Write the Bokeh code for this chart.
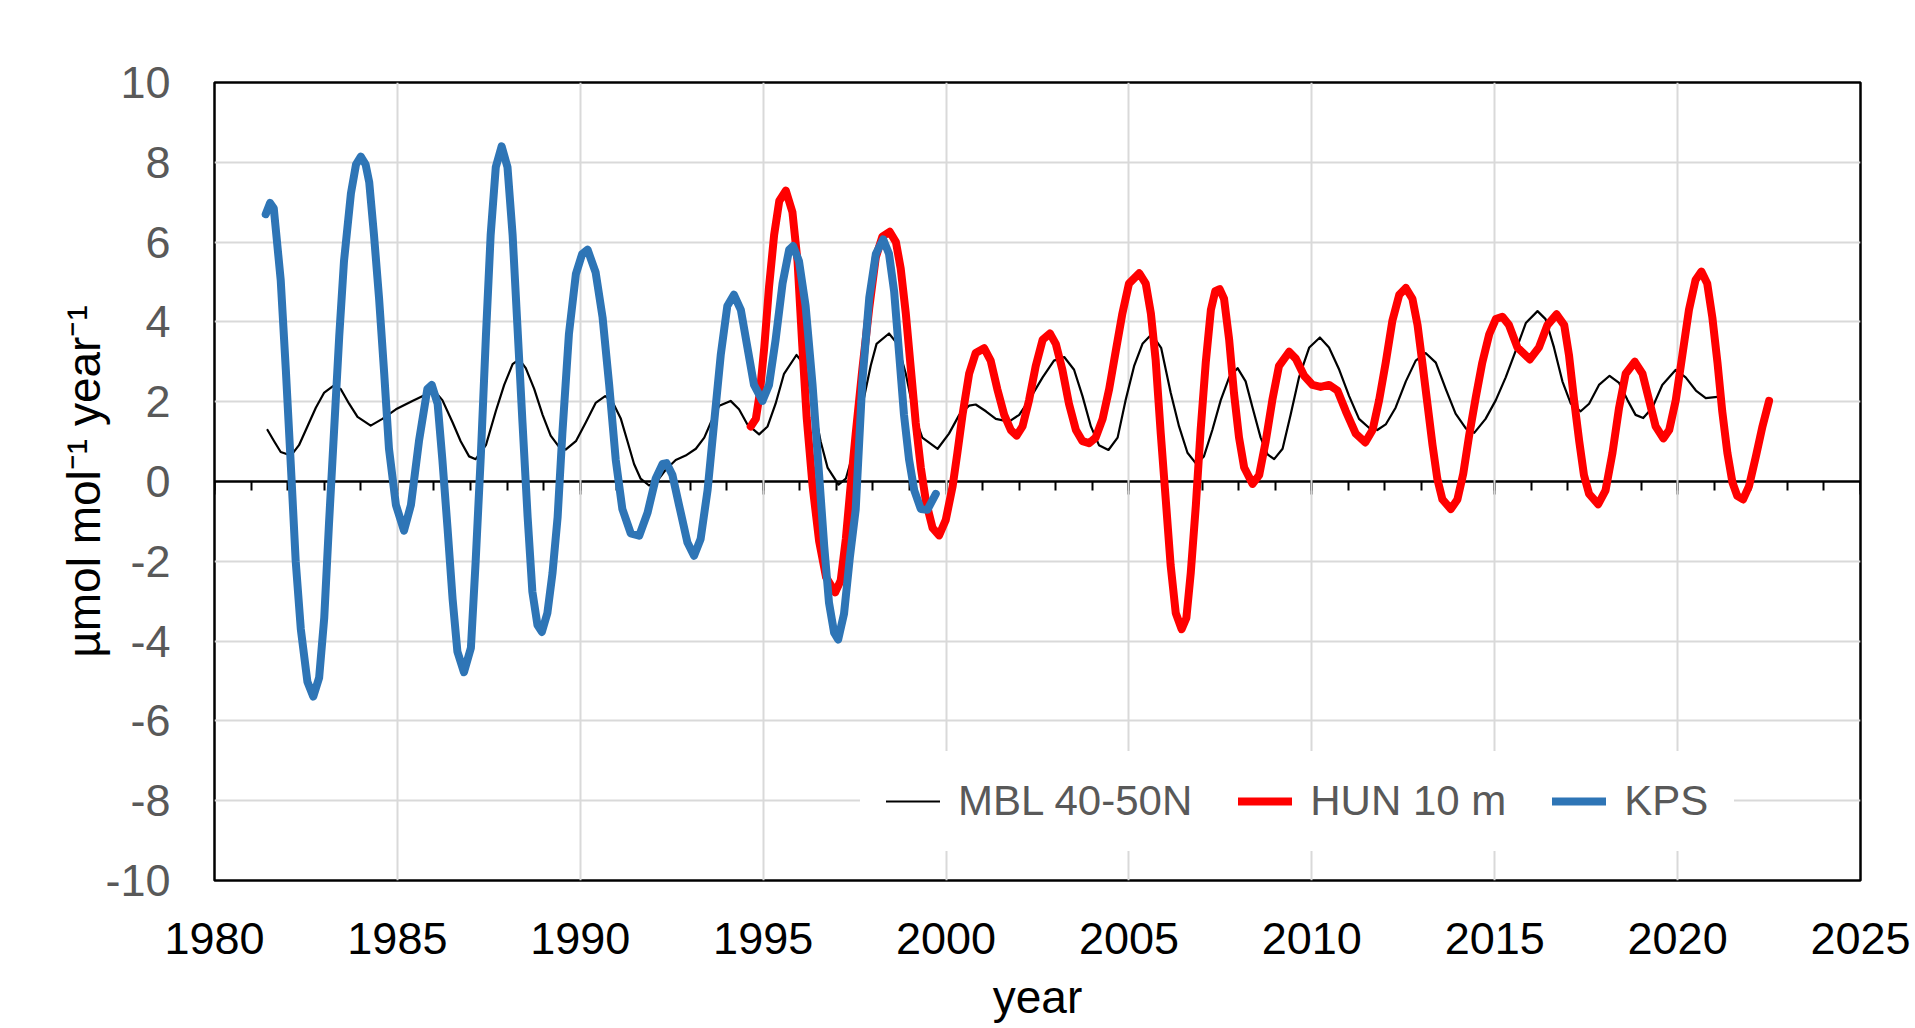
from bokeh.plotting import figure
from bokeh.models import (Range1d, LinearAxis, SingleIntervalTicker, FixedTicker,
                          Legend, LegendItem, CustomJSTickFormatter)
from bokeh.embed import file_html
from bokeh.resources import INLINE

# ---- data ----
mbl_year = [1981.45, 1981.63, 1981.81, 1982.09, 1982.31, 1982.54, 1982.77, 1983.00, 1983.24, 1983.45,
            1983.68, 1983.91, 1984.27, 1984.59, 1984.96, 1985.41, 1985.78, 1986.05, 1986.23, 1986.51,
            1986.73, 1986.96, 1987.14, 1987.42, 1987.69, 1987.92, 1988.15, 1988.33, 1988.51, 1988.74,
            1988.97, 1989.19, 1989.42, 1989.60, 1989.88, 1990.15, 1990.42, 1990.68, 1990.88, 1991.11,
            1991.29, 1991.47, 1991.65, 1991.88, 1992.11, 1992.34, 1992.61, 1992.88, 1993.16, 1993.39,
            1993.57, 1993.80, 1994.11, 1994.34, 1994.57, 1994.89, 1995.12, 1995.34, 1995.57, 1995.91,
            1996.12, 1996.35, 1996.57, 1996.76, 1997.06, 1997.26, 1997.49, 1997.71, 1997.94, 1998.10,
            1998.44, 1998.67, 1998.90, 1999.13, 1999.35, 1999.77, 2000.08, 2000.36, 2000.63, 2000.81,
            2001.09, 2001.36, 2001.72, 2002.00, 2002.27, 2002.64, 2002.95, 2003.23, 2003.50, 2003.73,
            2003.96, 2004.18, 2004.44, 2004.69, 2004.91, 2005.14, 2005.37, 2005.62, 2005.88, 2006.14,
            2006.37, 2006.60, 2006.84, 2007.05, 2007.28, 2007.51, 2007.74, 2007.97, 2008.19, 2008.38,
            2008.60, 2008.79, 2008.97, 2009.20, 2009.42, 2009.65, 2009.93, 2010.22, 2010.47, 2010.75,
            2011.02, 2011.29, 2011.57, 2011.79, 2012.02, 2012.29, 2012.57, 2012.84, 2013.11, 2013.39,
            2013.66, 2013.93, 2014.21, 2014.44, 2014.75, 2015.03, 2015.30, 2015.57, 2015.85, 2016.17,
            2016.39, 2016.62, 2016.85, 2017.08, 2017.35, 2017.58, 2017.85, 2018.14, 2018.40, 2018.63,
            2018.85, 2019.06, 2019.31, 2019.58, 2019.95, 2020.22, 2020.50, 2020.77, 2021.09]
mbl_value = [1.29, 1.01, 0.74, 0.65, 0.91, 1.38, 1.85, 2.23, 2.39, 2.32,
             1.95, 1.62, 1.40, 1.57, 1.81, 2.02, 2.18, 2.23, 2.04, 1.48,
             1.01, 0.63, 0.56, 0.91, 1.76, 2.42, 2.94, 3.06, 2.84, 2.32,
             1.67, 1.15, 0.87, 0.80, 1.01, 1.48, 1.97, 2.14, 2.00, 1.57,
             1.01, 0.44, 0.07, -0.10, 0.02, 0.30, 0.54, 0.65, 0.82, 1.10,
             1.48, 1.90, 2.02, 1.81, 1.43, 1.18, 1.38, 1.95, 2.70, 3.17,
             2.94, 2.04, 1.01, 0.35, -0.08, 0.07, 0.80, 1.90, 2.90, 3.45,
             3.71, 3.45, 2.70, 1.67, 1.10, 0.82, 1.20, 1.67, 1.90, 1.93,
             1.76, 1.57, 1.50, 1.67, 2.04, 2.61, 3.03, 3.12, 2.80, 2.14,
             1.38, 0.91, 0.79, 1.10, 2.04, 2.89, 3.45, 3.69, 3.35, 2.23,
             1.38, 0.72, 0.44, 0.63, 1.29, 2.04, 2.61, 2.84, 2.51, 1.85,
             1.10, 0.68, 0.56, 0.82, 1.67, 2.61, 3.36, 3.61, 3.36, 2.80,
             2.14, 1.57, 1.34, 1.29, 1.43, 1.85, 2.51, 3.03, 3.22, 2.98,
             2.32, 1.70, 1.33, 1.22, 1.57, 2.04, 2.61, 3.27, 3.97, 4.27,
             4.07, 3.36, 2.51, 1.95, 1.76, 1.95, 2.42, 2.65, 2.47, 2.04,
             1.67, 1.59, 1.85, 2.42, 2.80, 2.61, 2.28, 2.09, 2.12]

hun_year = [1994.66, 1994.80, 1994.91, 1995.03, 1995.16, 1995.30, 1995.44, 1995.62, 1995.80, 1995.94,
            1996.07, 1996.19, 1996.35, 1996.53, 1996.72, 1996.97, 1997.12, 1997.26, 1997.39, 1997.53,
            1997.71, 1997.90, 1998.08, 1998.26, 1998.46, 1998.63, 1998.76, 1998.90, 1999.04, 1999.17,
            1999.31, 1999.45, 1999.63, 1999.81, 1999.99, 2000.18, 2000.31, 2000.45, 2000.63, 2000.81,
            2001.04, 2001.22, 2001.40, 2001.59, 2001.77, 2001.93, 2002.09, 2002.27, 2002.45, 2002.64,
            2002.84, 2003.00, 2003.18, 2003.36, 2003.55, 2003.73, 2003.91, 2004.09, 2004.28, 2004.46,
            2004.64, 2004.82, 2005.00, 2005.28, 2005.46, 2005.60, 2005.73, 2005.87, 2006.01, 2006.14,
            2006.28, 2006.44, 2006.57, 2006.69, 2006.83, 2006.96, 2007.10, 2007.24, 2007.36, 2007.48,
            2007.60, 2007.74, 2007.87, 2008.01, 2008.15, 2008.38, 2008.56, 2008.74, 2008.92, 2009.10,
            2009.38, 2009.56, 2009.79, 2010.02, 2010.24, 2010.47, 2010.70, 2010.93, 2011.20, 2011.46,
            2011.66, 2011.84, 2012.02, 2012.20, 2012.39, 2012.57, 2012.75, 2012.89, 2013.02, 2013.16,
            2013.30, 2013.43, 2013.57, 2013.80, 2013.98, 2014.14, 2014.30, 2014.48, 2014.66, 2014.85,
            2015.03, 2015.21, 2015.39, 2015.62, 2015.96, 2016.21, 2016.44, 2016.69, 2016.90, 2017.03,
            2017.17, 2017.31, 2017.44, 2017.58, 2017.83, 2018.03, 2018.22, 2018.40, 2018.58, 2018.83,
            2019.04, 2019.22, 2019.40, 2019.61, 2019.77, 2019.95, 2020.13, 2020.31, 2020.49, 2020.65,
            2020.81, 2020.95, 2021.09, 2021.22, 2021.36, 2021.50, 2021.63, 2021.79, 2021.95, 2022.14,
            2022.32, 2022.50]
hun_value = [1.38, 1.57, 2.23, 3.36, 4.87, 6.18, 7.03, 7.29, 6.75, 5.52,
             3.40, 1.60, -0.10, -1.50, -2.40, -2.78, -2.48, -1.44, -0.12, 1.20,
             2.80, 4.35, 5.62, 6.14, 6.26, 6.00, 5.34, 4.21, 2.80, 1.48,
             0.35, -0.50, -1.16, -1.35, -0.97, -0.12, 0.72, 1.67, 2.70, 3.22,
             3.34, 3.03, 2.32, 1.67, 1.29, 1.15, 1.38, 2.04, 2.89, 3.55,
             3.71, 3.45, 2.80, 1.95, 1.29, 1.01, 0.96, 1.10, 1.57, 2.32,
             3.27, 4.21, 4.96, 5.22, 4.96, 4.21, 3.05, 1.20, -0.50, -2.10,
             -3.30, -3.70, -3.42, -2.29, -0.59, 1.29, 2.98, 4.30, 4.77, 4.82,
             4.58, 3.55, 2.23, 1.10, 0.35, -0.06, 0.16, 1.01, 2.04, 2.89,
             3.25, 3.08, 2.65, 2.42, 2.37, 2.42, 2.28, 1.76, 1.20, 0.98,
             1.29, 2.04, 2.98, 4.02, 4.68, 4.85, 4.58, 3.92, 2.98, 1.95,
             0.91, 0.07, -0.45, -0.69, -0.45, 0.20, 1.15, 2.10, 2.98, 3.69,
             4.07, 4.13, 3.92, 3.36, 3.06, 3.36, 3.92, 4.19, 3.92, 3.17,
             2.04, 1.01, 0.16, -0.31, -0.57, -0.22, 0.72, 1.85, 2.70, 3.00,
             2.70, 2.04, 1.38, 1.08, 1.29, 2.04, 3.17, 4.30, 5.05, 5.26,
             4.96, 4.11, 2.98, 1.76, 0.72, -0.03, -0.36, -0.45, -0.12, 0.63,
             1.38, 2.02]

kps_year = [1981.40, 1981.52, 1981.62, 1981.81, 1981.95, 1982.09, 1982.22, 1982.36, 1982.54, 1982.70,
            1982.86, 1983.00, 1983.13, 1983.27, 1983.41, 1983.54, 1983.73, 1983.87, 1984.00, 1984.13,
            1984.23, 1984.36, 1984.50, 1984.64, 1984.77, 1984.96, 1985.18, 1985.37, 1985.59, 1985.82,
            1985.94, 1986.10, 1986.23, 1986.37, 1986.51, 1986.64, 1986.82, 1987.01, 1987.14, 1987.28,
            1987.42, 1987.55, 1987.69, 1987.85, 1988.01, 1988.15, 1988.28, 1988.42, 1988.56, 1988.69,
            1988.83, 1988.95, 1989.10, 1989.24, 1989.38, 1989.51, 1989.69, 1989.88, 1990.05, 1990.20,
            1990.42, 1990.61, 1990.79, 1990.97, 1991.15, 1991.38, 1991.61, 1991.84, 1992.06, 1992.25,
            1992.36, 1992.52, 1992.70, 1992.93, 1993.11, 1993.29, 1993.48, 1993.66, 1993.84, 1994.02,
            1994.20, 1994.39, 1994.57, 1994.75, 1994.98, 1995.16, 1995.34, 1995.53, 1995.71, 1995.82,
            1995.98, 1996.16, 1996.35, 1996.53, 1996.67, 1996.80, 1996.94, 1997.05, 1997.21, 1997.37,
            1997.53, 1997.71, 1997.90, 1998.08, 1998.28, 1998.44, 1998.58, 1998.72, 1998.85, 1998.99,
            1999.13, 1999.31, 1999.49, 1999.72]
kps_value = [6.70, 6.98, 6.85, 5.05, 2.80, 0.35, -2.00, -3.70, -5.02, -5.39,
             -4.92, -3.42, -1.06, 1.29, 3.64, 5.52, 7.22, 7.95, 8.14, 7.95,
             7.50, 6.18, 4.58, 2.70, 0.82, -0.59, -1.23, -0.59, 1.01, 2.32,
             2.42, 1.95, 0.54, -1.16, -2.95, -4.26, -4.78, -4.17, -2.00, 0.63,
             3.64, 6.18, 7.88, 8.40, 7.88, 6.18, 3.92, 1.48, -0.88, -2.76,
             -3.60, -3.77, -3.30, -2.30, -0.90, 1.20, 3.70, 5.20, 5.70, 5.81,
             5.24, 4.11, 2.42, 0.54, -0.69, -1.30, -1.36, -0.78, 0.07, 0.44,
             0.46, 0.16, -0.59, -1.53, -1.86, -1.44, -0.22, 1.48, 3.17, 4.40,
             4.68, 4.30, 3.36, 2.42, 2.02, 2.42, 3.55, 4.96, 5.81, 5.90,
             5.52, 4.40, 2.42, 0.16, -1.63, -3.04, -3.79, -3.96, -3.32, -1.90,
             -0.70, 2.50, 4.60, 5.70, 6.07, 5.71, 4.77, 3.17, 1.67, 0.54,
             -0.22, -0.69, -0.71, -0.31]

series_labels = ["MBL 40-50N", "HUN 10 m", "KPS"]
x_ticks = [1980, 1985, 1990, 1995, 2000, 2005, 2010, 2015, 2020, 2025]
y_ticks = [-10, -8, -6, -4, -2, 0, 2, 4, 6, 8, 10]
y_grid_ticks = [-8, -6, -4, -2, 2, 4, 6, 8]

FONT = "Liberation Sans"
GRAY = "#595959"

p = figure(width=1915, height=1028, output_backend="svg", toolbar_location=None,
           x_range=Range1d(1980, 2025), y_range=Range1d(-10, 10),
           min_border_left=214, min_border_right=55, min_border_top=82, min_border_bottom=148,
           background_fill_color="white", border_fill_color="white")

p.outline_line_color = "black"
p.outline_line_width = 2.5
p.outline_line_alpha = 1

# grids
p.xgrid.ticker = FixedTicker(ticks=x_ticks)
p.ygrid.ticker = FixedTicker(ticks=y_grid_ticks)
for g in (p.xgrid, p.ygrid):
    g.grid_line_color = "#d9d9d9"
    g.grid_line_width = 2

# x axis: labels only at bottom
xa = p.xaxis[0]
xa.ticker = FixedTicker(ticks=x_ticks)
xa.formatter = CustomJSTickFormatter(code="return tick.toString()")
xa.axis_line_color = None
xa.major_tick_line_color = None
xa.minor_tick_line_color = None
xa.major_tick_out = 0
xa.major_tick_in = 0
xa.major_label_standoff = 42
xa.major_label_text_font = FONT
xa.major_label_text_font_size = "45px"
xa.major_label_text_color = "black"
xa.axis_label = "year"
xa.axis_label_text_font = FONT
xa.axis_label_text_font_size = "46px"
xa.axis_label_text_font_style = "normal"
xa.axis_label_text_color = "black"
xa.axis_label_standoff = 14

# y axis
ya = p.yaxis[0]
ya.ticker = FixedTicker(ticks=y_ticks)
ya.formatter = CustomJSTickFormatter(code="return tick.toString()")
ya.axis_line_color = None
ya.major_tick_line_color = None
ya.minor_tick_line_color = None
ya.major_tick_out = 0
ya.major_tick_in = 0
ya.major_label_standoff = 44
ya.major_label_text_font = FONT
ya.major_label_text_font_size = "45px"
ya.major_label_text_color = GRAY
ya.axis_label = "µmol mol⁻¹ year⁻¹"
ya.axis_label_text_font = FONT
ya.axis_label_text_font_size = "46px"
ya.axis_label_text_font_style = "normal"
ya.axis_label_text_color = "black"
ya.axis_label_standoff = -8

# zero line axis with downward ticks
zero_axis = LinearAxis(fixed_location=0,
                       ticker=SingleIntervalTicker(interval=5, num_minor_ticks=5),
                       formatter=CustomJSTickFormatter(code="return ''"),
                       axis_line_color="black", axis_line_width=2.5,
                       major_tick_line_color="black", major_tick_line_width=2,
                       minor_tick_line_color="black", minor_tick_line_width=2,
                       major_tick_out=13, major_tick_in=0,
                       minor_tick_out=9, minor_tick_in=0,
                       major_label_text_font_size="1px")
zero_axis.level = "underlay"
p.add_layout(zero_axis, "below")

r_mbl = p.line(mbl_year, mbl_value, line_color="black", line_width=2.2,
               line_join="round", line_cap="round")
r_hun = p.line(hun_year, hun_value, line_color="#FF0000", line_width=8,
               line_join="round", line_cap="round")
r_kps = p.line(kps_year, kps_value, line_color="#2E75B6", line_width=8,
               line_join="round", line_cap="round")

legend = Legend(items=[LegendItem(label=series_labels[0], renderers=[r_mbl]),
                       LegendItem(label=series_labels[1], renderers=[r_hun]),
                       LegendItem(label=series_labels[2], renderers=[r_kps])],
                orientation="horizontal", location=(646, 29),
                glyph_width=54, glyph_height=20, label_standoff=18, spacing=46,
                padding=26, label_text_font=FONT, label_text_font_size="42px",
                label_text_color=GRAY, background_fill_color="white",
                background_fill_alpha=1, border_line_alpha=0)
p.add_layout(legend)

open("out.html", "w").write(file_html(p, INLINE))
